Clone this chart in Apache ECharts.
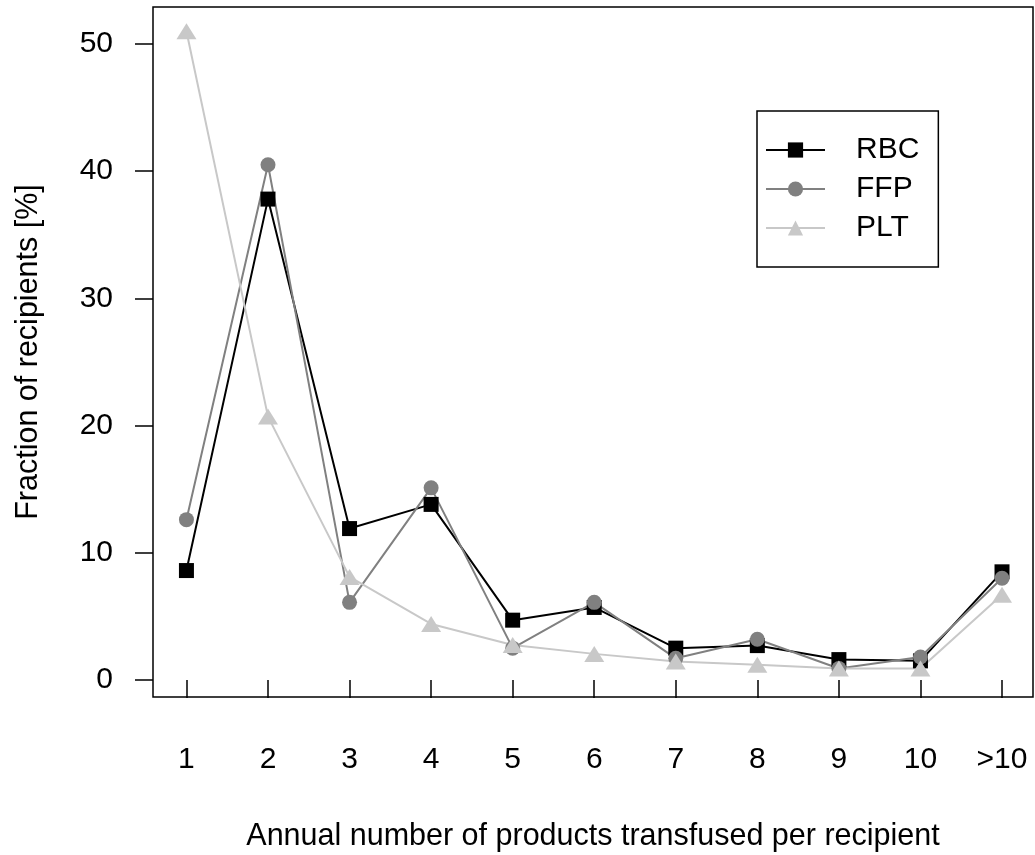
<!DOCTYPE html>
<html>
<head>
<meta charset="utf-8">
<script src="https://cdn.jsdelivr.net/npm/echarts@6/dist/echarts.min.js"></script>
<style>
html,body{margin:0;padding:0;background:#fff;}
#c{width:1035px;height:855px;}
</style>
</head>
<body>
<div id="c"></div>
<script>
const categories = ['1','2','3','4','5','6','7','8','9','10','>10'];
const xPositions = [1,2,3,4,5,6,7,8,9,10,11];
const rbc = [8.6, 37.8, 11.9, 13.8, 4.7, 5.7, 2.5, 2.7, 1.6, 1.5, 8.5];
const ffp = [12.6, 40.5, 6.1, 15.1, 2.5, 6.1, 1.7, 3.2, 0.9, 1.8, 8.0];
const plt = [51.0, 20.7, 8.1, 4.4, 2.75, 2.05, 1.45, 1.2, 0.9, 0.9, 6.7];
const yTicks = [0, 10, 20, 30, 40, 50];

const FONT = 'Liberation Sans, Arial, sans-serif';
const FS = 30;
const TFS = 30.5;

function pairs(vals){ return vals.map((v,i)=>[xPositions[i], v]); }

const chart = echarts.init(document.getElementById('c'), null, {renderer:'canvas'});
chart.setOption({
  animation: false,
  backgroundColor: '#fff',
  grid: {left:153, top:7, right:2, bottom:158, show:true, borderColor:'#000', borderWidth:1.5,
    backgroundColor:'transparent', containLabel:false, outerBoundsMode:'none'},
  xAxis: {
    type:'value', min:0.59, max:11.38,
    splitLine:{show:false},
    axisLine:{show:false},
    axisTick:{show:true, inside:false, length:18, lineStyle:{color:'#000', width:1.5}, customValues: xPositions},
    axisLabel:{color:'#000', fontFamily:FONT, fontSize:FS, margin:48, customValues: xPositions,
      formatter: v => categories[xPositions.indexOf(v)] },
    name:'Annual number of products transfused per recipient',
    nameLocation:'middle', nameGap:124,
    nameTextStyle:{color:'#000', fontFamily:FONT, fontSize:TFS}
  },
  yAxis: {
    type:'value', min:-1.34, max:52.9,
    splitLine:{show:false},
    axisLine:{show:false},
    axisTick:{show:true, inside:false, length:18, lineStyle:{color:'#000', width:1.5}, customValues: yTicks},
    axisLabel:{color:'#000', fontFamily:FONT, fontSize:FS, margin:40, customValues: yTicks},
    name:'Fraction of recipients [%]',
    nameLocation:'middle', nameGap:109, nameRotate:90,
    nameTextStyle:{color:'#000', fontFamily:FONT, fontSize:TFS}
  },
  legend: {
    orient:'vertical', left:757, top:111,
    padding:[24,19,24,8],
    itemGap:9, itemWidth:59, itemHeight:19,
    borderColor:'#000', borderWidth:1.5,
    textStyle:{color:'#000', fontFamily:FONT, fontSize:FS, padding:[0,0,0,26]},
    data:['RBC','FFP','PLT']
  },
  series: [
    {name:'RBC', type:'line', data:pairs(rbc), symbol:'rect', symbolSize:15,
      lineStyle:{color:'#000', width:2}, itemStyle:{color:'#000'}},
    {name:'FFP', type:'line', data:pairs(ffp), symbol:'circle', symbolSize:15,
      lineStyle:{color:'#808080', width:2}, itemStyle:{color:'#808080'}},
    {name:'PLT', type:'line', data:pairs(plt), symbol:'triangle', symbolSize:[20,16],
      lineStyle:{color:'#c8c8c8', width:2}, itemStyle:{color:'#c8c8c8'}}
  ]
});
</script>
</body>
</html>
